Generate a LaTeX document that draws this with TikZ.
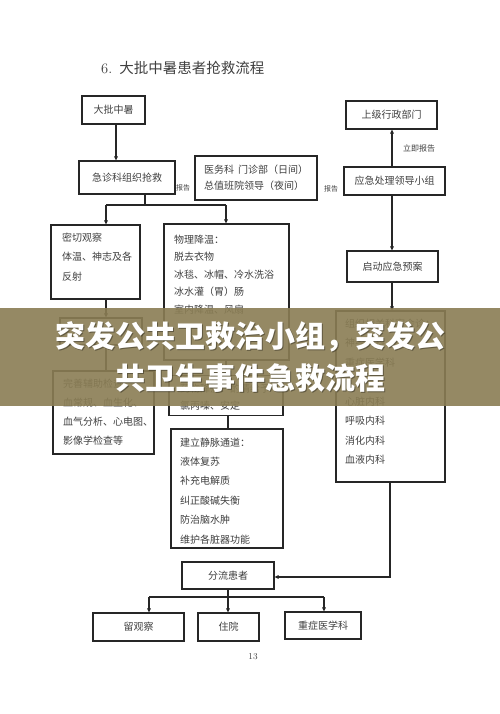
\documentclass[tikz,border=0pt]{standalone}
\usepackage{fontspec}
\newfontfamily\cjk{Noto Sans CJK SC}
\usetikzlibrary{arrows.meta}
\definecolor{linec}{HTML}{262626}
\definecolor{txt}{HTML}{404040}
\definecolor{band}{RGB}{138,125,84}
\begin{document}
\begin{tikzpicture}[x=1pt,y=-1pt,
  box/.style={draw=linec,line width=1.1pt,inner sep=0pt,text=txt,font=\cjk\fontsize{10}{12}\selectfont},
  lines/.style={anchor=north west,inner sep=0pt,align=left,text=txt,font=\cjk\fontsize{10}{#1}\selectfont},
  lines/.default=19.5,
  conn/.style={draw=linec,line width=1.1pt},
  arr/.style={conn,-{Triangle[length=4pt,width=3.5pt]}},
  lbl/.style={inner sep=0pt,text=txt,font=\cjk\fontsize{#1}{#1}\selectfont}
]
\fill[white] (0,0) rectangle (500,714);
\useasboundingbox (0,0) rectangle (500,714);

\node[anchor=west,inner sep=0pt,text=txt] (title) at (101,68) {\fontsize{14.5}{16}\selectfont 6.\hspace{7pt}\cjk 大批中暑患者抢救流程};

\node[box,minimum width=63pt,minimum height=28pt] (n1) at (113.5,110) {大批中暑};
\node[box,minimum width=96pt,minimum height=33pt] (n2) at (127,177.5) {急诊科组织抢救};
\node[box,minimum width=122pt,minimum height=44pt] (n3) at (256,178) {};
\node[lines=16] (n3t) at (204,164.5) {医务科\hspace{4pt}门诊部（日间）\\总值班院领导（夜间）};
\node[box,minimum width=101pt,minimum height=28pt] (n4) at (394.5,181) {应急处理领导小组};
\node[box,minimum width=91pt,minimum height=28pt] (n5) at (391.5,115) {上级行政部门};
\node[lbl=8] (l1) at (419,148) {立即报告};
\node[lbl=7] (l2) at (183,188) {报告};
\node[lbl=7] (l3) at (331,189) {报告};

\node[box,minimum width=89pt,minimum height=74pt] (n6) at (95.5,262) {};
\node[lines] (n6t) at (62,232.5) {密切观察\\体温、神志及各\\反射};
\node[box,minimum width=125pt,minimum height=136pt] (n7) at (226.5,292) {};
\node[lines=17.5] (n7t) at (174,234.5) {物理降温：\\脱去衣物\\冰毯、冰帽、冷水洗浴\\冰水灌（胃）肠\\室内降温、风扇};
\node[box,minimum width=82pt,minimum height=27pt] (n8) at (101,331.5) {};
\node[box,minimum width=101pt,minimum height=83pt] (n9) at (103.5,412.5) {};
\node[lines=19] (n9t) at (63,378.5) {完善辅助检查\\血常规、血生化、\\血气分析、心电图、\\影像学检查等};
\node[box,minimum width=114pt,minimum height=40pt] (n10) at (226,395.5) {};
\node[lines=17] (n10t) at (180,383.5) {药物降温：酌情给予\\氯丙嗪、安定};
\node[box,minimum width=112pt,minimum height=119pt] (n11) at (227,488.5) {};
\node[lines=19.4] (n11t) at (180,437.5) {建立静脉通道：\\液体复苏\\补充电解质\\纠正酸碱失衡\\防治脑水肿\\维护各脏器功能};
\node[box,minimum width=92pt,minimum height=27pt] (n12) at (228,575.5) {分流患者};
\node[box,minimum width=91pt,minimum height=31pt] (n13) at (392.5,266.5) {启动应急预案};
\node[box,minimum width=109pt,minimum height=171pt] (n14) at (390.5,396.5) {};
\node[lines] (n14t) at (345,318.5) {组织相关科室会诊：\\神经内科\\重症医学科\\\mbox{}\\心脏内科\\呼吸内科\\消化内科\\血液内科};

\node[box,minimum width=91pt,minimum height=28pt] (n15) at (138.5,627) {留观察};
\node[box,minimum width=61pt,minimum height=28pt] (n16) at (228.5,627) {住院};
\node[box,minimum width=76pt,minimum height=27pt] (n17) at (323,625.5) {重症医学科};
\node[inner sep=0pt,text=txt,font=\fontsize{9}{10}\selectfont] (pg) at (253,657) {13};

% connectors
\coordinate (c1) at (116,0);
\draw[arr] (n1.south -| c1) -- (n2.north -| c1);
\coordinate (j1) at (145,205);
\coordinate (b1) at (106,205);
\coordinate (b2) at (226,205);
\draw[conn] (n2.south -| j1) -- (j1);
\draw[conn] (b1) -- (b2);
\draw[arr] (b1) -- (b1 |- n6.north);
\draw[arr] (b2) -- (b2 |- n7.north);
\draw[arr] (b1 |- n6.south) -- (b1 |- n8.north);
\draw[conn] (b1 |- n8.south) -- (b1 |- n9.north);
\draw[conn] (n10.north |- n7.south) -- (n10.north);
\coordinate (c2) at (228,0);
\draw[conn] (c2 |- n10.south) -- (c2 |- n11.north);
\coordinate (c3) at (392,0);
\draw[arr] (c3 |- n4.north) -- (c3 |- n5.south);
\draw[arr] (c3 |- n4.south) -- (c3 |- n13.north);
\draw[arr] (c3 |- n13.south) -- (c3 |- n14.north);
\coordinate (c4) at (390,577);
\draw[arr] (c4 |- n14.south) -- (c4) -- (n12.east |- c4);
\coordinate (b3) at (228,597);
\coordinate (b4) at (149,597);
\coordinate (b5) at (324,597);
\draw[conn] (n12.south -| b3) -- (b3);
\draw[conn] (b4) -- (b5);
\draw[arr] (b4) -- (b4 |- n15.north);
\draw[arr] (b3) -- (b3 |- n16.north);
\draw[arr] (b5) -- (b5 |- n17.north);

% overlay banner
\fill[band,opacity=0.9] (0,308) rectangle (500,406);
\node[text=black,opacity=0.35,font=\cjk\bfseries\fontsize{30}{42}\selectfont,align=center,inner sep=0pt] (bs) at (251,358) {突发公共卫救治小组，突发公\\共卫生事件急救流程};
\node[text=white,font=\cjk\bfseries\fontsize{30}{42}\selectfont,align=center,inner sep=0pt] (bt) at (250,357) {突发公共卫救治小组，突发公\\共卫生事件急救流程};
\end{tikzpicture}
\end{document}
